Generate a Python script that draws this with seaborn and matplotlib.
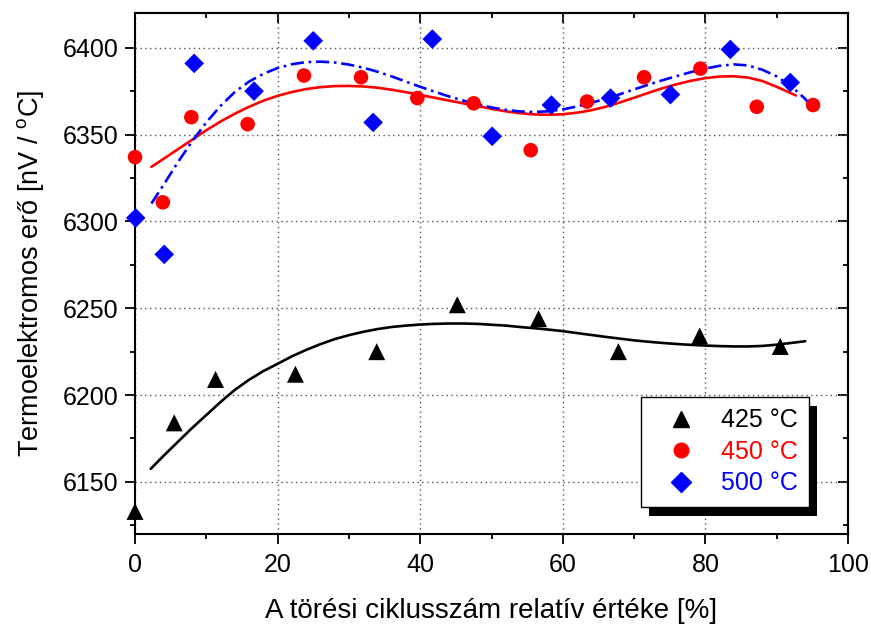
import numpy as np
import pandas as pd
import matplotlib
matplotlib.use("Agg")
import matplotlib.pyplot as plt
from matplotlib.ticker import MultipleLocator
from matplotlib.patches import Rectangle
from matplotlib.lines import Line2D
import seaborn as sns

# ---- data ----
x425 = [0.0, 5.5, 11.3, 22.5, 33.9, 45.2, 56.6, 67.8, 79.2, 90.5]
y425 = [6133, 6184, 6209, 6212, 6225, 6252, 6244, 6225, 6234, 6228]

x450 = [0.0, 3.9, 7.9, 15.8, 23.7, 31.7, 39.6, 47.5, 55.5, 63.4, 71.4, 79.3, 87.2, 95.1]
y450 = [6337, 6311, 6360, 6356, 6384, 6383, 6371, 6368, 6341, 6369, 6383, 6388, 6366, 6367]

x500 = [0.1, 4.1, 8.3, 16.7, 25.0, 33.4, 41.7, 50.1, 58.4, 66.7, 75.1, 83.5, 91.9]
y500 = [6302, 6281, 6391, 6375, 6404, 6357, 6405, 6349, 6367, 6371, 6373, 6399, 6380]

# fitted curves, sampled (read) from the reference
fx425 = [2.2, 4, 6, 8, 10, 12, 14, 16, 18, 20, 22, 24, 26, 28, 30, 32, 34, 36, 38, 40,
         42, 44, 46, 48, 50, 52, 54, 56, 58, 60, 62, 64, 66, 68, 70, 72, 74, 76, 78, 80,
         82, 84, 86, 88, 90, 92, 94]
fy425 = [6157.5, 6165, 6173, 6181, 6188.5, 6196, 6203, 6208.8, 6213.8, 6218, 6222.3, 6226, 6229.3, 6232.2, 6234.5, 6236.4, 6238, 6239.2, 6240, 6240.6,
         6241.0, 6241.2, 6241.2, 6241.0, 6240.5, 6240.0, 6239.2, 6238.5, 6237.7, 6236.8, 6235.7, 6234.6, 6233.5, 6232.5, 6231.5, 6230.7, 6230.0, 6229.4, 6228.9, 6228.5,
         6228.2, 6228.0, 6228.0, 6228.3, 6229.0, 6230.0, 6231.0]

fx450 = [2.3, 4, 6, 8, 10, 12, 14, 16, 18, 20, 22, 24, 26, 28, 30, 32, 34, 36, 38, 40,
         42, 44, 46, 48, 50, 52, 54, 56, 58, 60, 62, 64, 66, 68, 70, 72, 74, 76, 78, 80,
         82, 84, 86, 88, 90, 92, 92.7]
fy450 = [6331.4, 6336, 6341.5, 6347, 6352.5, 6357.5, 6362, 6366, 6369.5, 6372.3, 6374.5, 6376.2, 6377.3, 6377.9, 6378, 6377.7, 6377, 6375.8, 6374.4, 6372.8,
         6371.2, 6369.6, 6368.0, 6366.5, 6364.8, 6363.4, 6362.3, 6361.6, 6361.4, 6361.7, 6362.6, 6364, 6366, 6368.5, 6371.2, 6374, 6376.7, 6379, 6381, 6382.5,
         6383.4, 6383.6, 6382.8, 6380.8, 6377.5, 6373.8, 6372.5]

fx500 = [2.3, 4, 6, 8, 10, 12, 14, 16, 18, 20, 22, 24, 26, 28, 30, 32, 34, 36, 38, 40,
         42, 44, 46, 48, 50, 52, 54, 56, 58, 60, 62, 64, 66, 68, 70, 72, 74, 76, 78, 80,
         82, 84, 86, 88, 90, 92, 94, 95.1]
fy500 = [6310.3, 6321, 6334, 6346, 6357, 6366.5, 6374.5, 6380.5, 6385, 6388.3, 6390.5, 6391.7, 6392, 6391.5, 6390.3, 6388.5, 6386.2, 6383.5, 6380.5, 6377.5,
         6374.7, 6372, 6369.6, 6367.5, 6365.6, 6364.2, 6363.3, 6363, 6363.4, 6364.5, 6366.2, 6368.3, 6370.6, 6373.2, 6376, 6378.7, 6381.3, 6383.7, 6386, 6388,
         6389.6, 6390.4, 6389.8, 6387.3, 6383.5, 6378, 6370.5, 6365]

labels = ["425 °C", "450 °C", "500 °C"]
colors = ["#000000", "#ff0000", "#0000ff"]
yticks = [6150, 6200, 6250, 6300, 6350, 6400]
xticks = [0, 20, 40, 60, 80, 100]

# ---- style ----
sns.set_style("white")
plt.rcParams["font.family"] = ["Liberation Sans", "DejaVu Sans"]
plt.rcParams["mathtext.fontset"] = "custom"
plt.rcParams["mathtext.rm"] = "Liberation Sans"
plt.rcParams["mathtext.it"] = "Liberation Sans:italic"
for k in ["text.color", "axes.labelcolor", "xtick.color", "ytick.color", "axes.edgecolor"]:
    plt.rcParams[k] = "black"

fig = plt.figure(figsize=(8.71, 6.25), dpi=100)
ax = fig.add_axes([135/871, 1-534/625, 713/871, 521/625])

# grid
ax.set_axisbelow(True)
ax.grid(True, which="major", color="#555555", linestyle=(0, (1, 2.5)), linewidth=1.0)

# fitted curves
sns.lineplot(x=fx425, y=fy425, ax=ax, color=colors[0], linewidth=1.9, sort=False, estimator=None)
sns.lineplot(x=fx450, y=fy450, ax=ax, color=colors[1], linewidth=1.9, sort=False, estimator=None)
sns.lineplot(x=fx500, y=fy500, ax=ax, color=colors[2], linewidth=1.9, sort=False, estimator=None,
             linestyle=(0, (5, 1.8, 1, 1.8)))

# points
sns.scatterplot(x=x425, y=y425, ax=ax, marker="^", s=150, color=colors[0], edgecolor="none", zorder=3, clip_on=False)
sns.scatterplot(x=x450, y=y450, ax=ax, marker="o", s=110, color=colors[1], edgecolor="none", zorder=3, clip_on=False)
sns.scatterplot(x=x500, y=y500, ax=ax, marker="D", s=100, color=colors[2], edgecolor="none", zorder=3, clip_on=False)

ax.set_xlim(0, 100)
ax.set_ylim(6120, 6420)
ax.set_xticks(xticks)
ax.set_yticks(yticks)
ax.xaxis.set_minor_locator(MultipleLocator(10))
ax.yaxis.set_minor_locator(MultipleLocator(25))

ax.tick_params(which="major", direction="out", length=7, width=1.3, labelsize=18,
               left=True, bottom=True)
ax.tick_params(axis="x", which="major", pad=7)
ax.tick_params(axis="y", which="major", pad=5)
ax.tick_params(which="minor", direction="out", length=3.8, width=1.3, left=True, bottom=True)

for sp in ax.spines.values():
    sp.set_linewidth(1.5)
    sp.set_color("black")

# mirrored inward ticks on top/right
sx = ax.secondary_xaxis("top")
sx.set_xticks(xticks)
sx.xaxis.set_minor_locator(MultipleLocator(10))
sx.tick_params(which="major", direction="in", length=7, width=1.3, labeltop=False)
sx.tick_params(which="minor", direction="in", length=3.8, width=1.3)
sx.spines["top"].set_linewidth(1.5)
sy = ax.secondary_yaxis("right")
sy.set_yticks(yticks)
sy.yaxis.set_minor_locator(MultipleLocator(25))
sy.tick_params(which="major", direction="in", length=7, width=1.3, labelright=False)
sy.tick_params(which="minor", direction="in", length=3.8, width=1.3)
sy.spines["right"].set_linewidth(1.5)

ax.set_xlabel("A törési ciklusszám relatív értéke [%]", fontsize=20, labelpad=15)
ax.set_ylabel(r"Termoelektromos erő [nV / $^{\mathrm{o}}$C]", fontsize=19.5, labelpad=12)

# legend
handles = [
    Line2D([], [], linestyle="none", marker="^", markersize=12, color=colors[0]),
    Line2D([], [], linestyle="none", marker="o", markersize=10.5, color=colors[1]),
    Line2D([], [], linestyle="none", marker="D", markersize=10, color=colors[2]),
]
leg = ax.legend(handles, labels, loc="upper left",
                bbox_to_anchor=((641-135)/713, (534-397)/521),
                borderaxespad=0, fontsize=18, labelcolor=colors, frameon=True, fancybox=False,
                edgecolor="black", framealpha=1, handlelength=2.3, handletextpad=0.45,
                borderpad=0.45, labelspacing=0.3)
leg.get_frame().set_linewidth(1.0)
leg.set_zorder(10)

fig.canvas.draw()
bb = leg.get_window_extent()
shadow = Rectangle((bb.x0 + 8, bb.y0 - 9), bb.width, bb.height, transform=None,
                   facecolor="black", edgecolor="none", zorder=9.5, clip_on=False)
ax.add_artist(shadow)

fig.savefig("out.png", dpi=100)
